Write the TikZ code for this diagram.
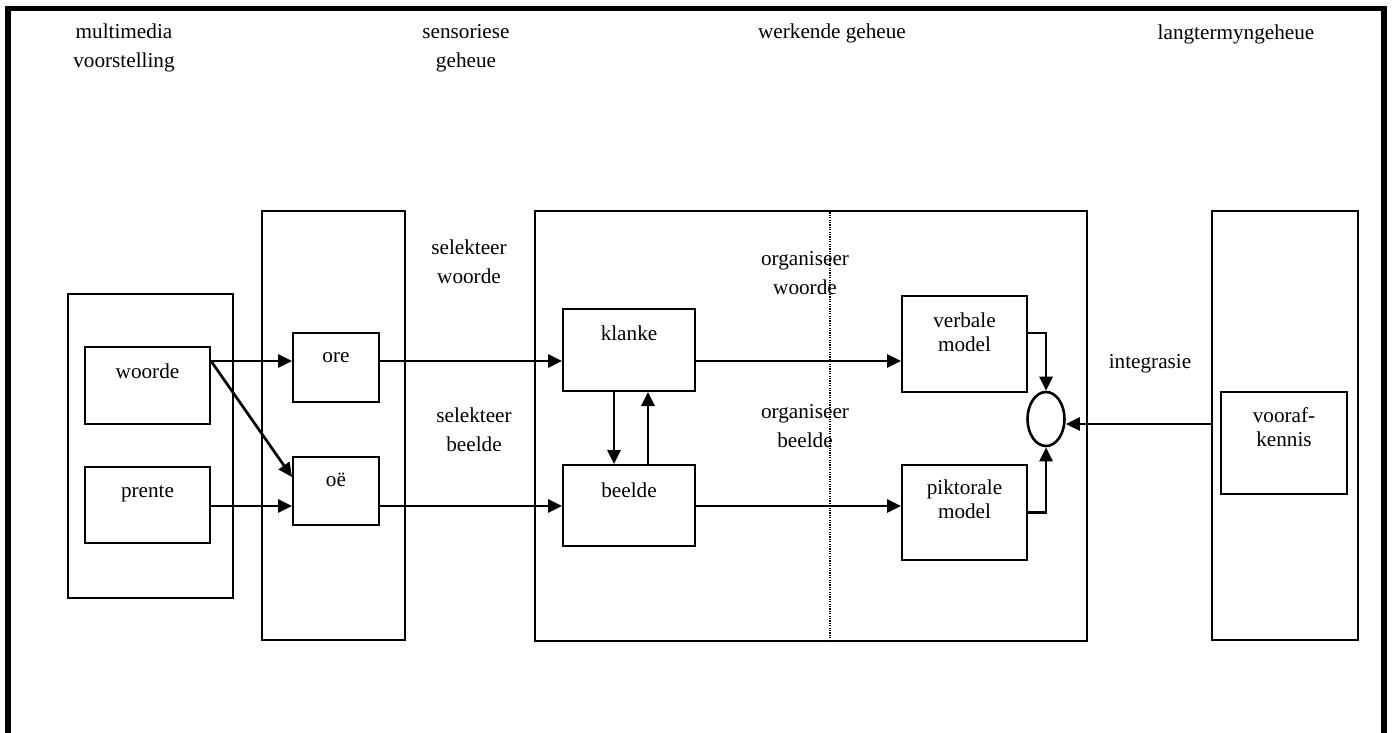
\documentclass[tikz,border=0pt]{standalone}
\usepackage{fontspec}
\setmainfont{Liberation Serif}
\usepackage{tikz}
\usetikzlibrary{positioning, shapes.geometric, arrows.meta, calc}
\newcommand{\BOXLINE}{1pt}
\newcommand{\ARROWLINE}{1.35pt}
\newcommand{\FRAMELINE}{2.8pt}

\begin{document}
\begin{tikzpicture}[x=0.5pt, y=-0.5pt,
    box/.style={draw, rectangle, line width=\BOXLINE, inner sep=0pt},
    lbl/.style={inner sep=0pt, align=center, font=\fontsize{10.6}{14.5}\selectfont},
    boxlbl/.style={inner sep=0pt, align=center, font=\fontsize{10.6}{12}\selectfont},
    arr/.style={line width=\ARROWLINE, -{Triangle[length=7pt, width=6.5pt]}}]
        \useasboundingbox (0, 0) rectangle (1392, 733);

        % outer frame (open at the bottom)
        \draw[line width=\FRAMELINE] (8, 733) -- (8, 8.5) -- (1384, 8.5) -- (1384, 733);

        % column titles
        \node[lbl] (mmtitle) at (124, 48) {multimedia\\voorstelling};
        \node[lbl] (senstitle) at (466, 48) {sensoriese\\geheue};
        \node[lbl] (wmtitle) at (832, 33) {werkende geheue};
        \node[lbl] (ltmtitle) at (1236, 34) {langtermyngeheue};

        % the big columns
        \node[box, minimum width=82.5pt, minimum height=152pt] (media) at (150.5, 446) {};
        \node[box, minimum width=71.5pt, minimum height=214.5pt] (sens) at (333.5, 425.5) {};
        \node[box, minimum width=276pt, minimum height=215pt] (wm) at (811, 426) {};
        \node[box, minimum width=73pt, minimum height=214.5pt] (ltm) at (1285, 425.5) {};
        \coordinate (split) at (830, 0);
        \draw[line width=0.7pt, dash pattern=on 0.6pt off 0.6pt] (split |- wm.north) -- (split |- wm.south); % dotted divider

        % inner boxes
        \node[box, minimum width=62.5pt, minimum height=38.5pt] (woorde) at (147.5, 385.5) {};
        \node[box, minimum width=62.5pt, minimum height=38pt] (prente) at (147.5, 505) {};
        \node[box, minimum width=43pt, minimum height=34.5pt] (ore) at (336, 367.5) {};
        \node[box, minimum width=43pt, minimum height=34pt] (oe) at (336, 491) {};
        \node[box, minimum width=66pt, minimum height=41pt] (klanke) at (629, 350) {};
        \node[box, minimum width=66pt, minimum height=40.5pt] (beelde) at (629, 505.5) {};
        \node[box, minimum width=62.5pt, minimum height=48pt] (verbal) at (964.5, 344) {};
        \node[box, minimum width=62.5pt, minimum height=47.5pt] (pictorial) at (964.5, 512.5) {};
        \node[box, minimum width=63pt, minimum height=51pt] (prior) at (1284, 443) {};
        \node[draw, ellipse, line width=1.3pt, inner sep=0pt, minimum width=18.5pt, minimum height=27pt] (merge) at (1046, 419) {};

        % box texts
        \node[boxlbl] (woordetxt) at (147.5, 371) {woorde};
        \node[boxlbl] (prentetxt) at (147.5, 494) {prente};
        \node[boxlbl] (oretxt) at (336, 358) {ore};
        \node[boxlbl] (oetxt) at (336, 480) {oë};
        \node[boxlbl] (klanketxt) at (629, 333) {klanke};
        \node[boxlbl] (beeldetxt) at (629, 490) {beelde};
        \node[boxlbl] (verbaltxt) at (964.5, 332) {verbale\\model};
        \node[boxlbl] (pictorialtxt) at (964.5, 499) {piktorale\\model};
        \node[boxlbl] (priortxt) at (1284, 427) {vooraf-\\kennis};

        % process labels
        \node[lbl] (selwords) at (469, 262) {selekteer\\woorde};
        \node[lbl] (selpics) at (474, 430) {selekteer\\beelde};
        \node[lbl] (orgwords) at (805, 273) {organiseer\\woorde};
        \node[lbl] (orgpics) at (805, 426) {organiseer\\beelde};
        \node[lbl] (integr) at (1150, 364) {integrasie};

        % arrows
        \coordinate (wordrow) at (0, 361);
        \coordinate (picrow) at (0, 506);
        \coordinate (introw) at (0, 424);
        \draw[arr] (woorde.east |- wordrow) -- (ore.west |- wordrow);
        \draw[arr] (woorde.east |- wordrow) -- ($(oe.north west)!0.3!(oe.south west)$);
        \draw[arr] (prente.east |- picrow) -- (oe.west |- picrow);
        \draw[arr] (ore.east |- wordrow) -- (klanke.west |- wordrow);
        \draw[arr] (oe.east |- picrow) -- (beelde.west |- picrow);
        \draw[arr] ([xshift=-7.5pt]klanke.south) -- ([xshift=-7.5pt]beelde.north);
        \draw[arr] ([xshift=9.5pt]beelde.north) -- ([xshift=9.5pt]klanke.south);
        \draw[arr] (klanke.east |- wordrow) -- (verbal.west |- wordrow);
        \draw[arr] (beelde.east |- picrow) -- (pictorial.west |- picrow);
        \draw[arr] ([yshift=5.5pt]verbal.east) -| (merge.north);
        \draw[arr] (pictorial.east) -| (merge.south);
        \draw[arr] (ltm.west |- introw) -- (merge.east |- introw);

    \end{tikzpicture}
\end{document}
